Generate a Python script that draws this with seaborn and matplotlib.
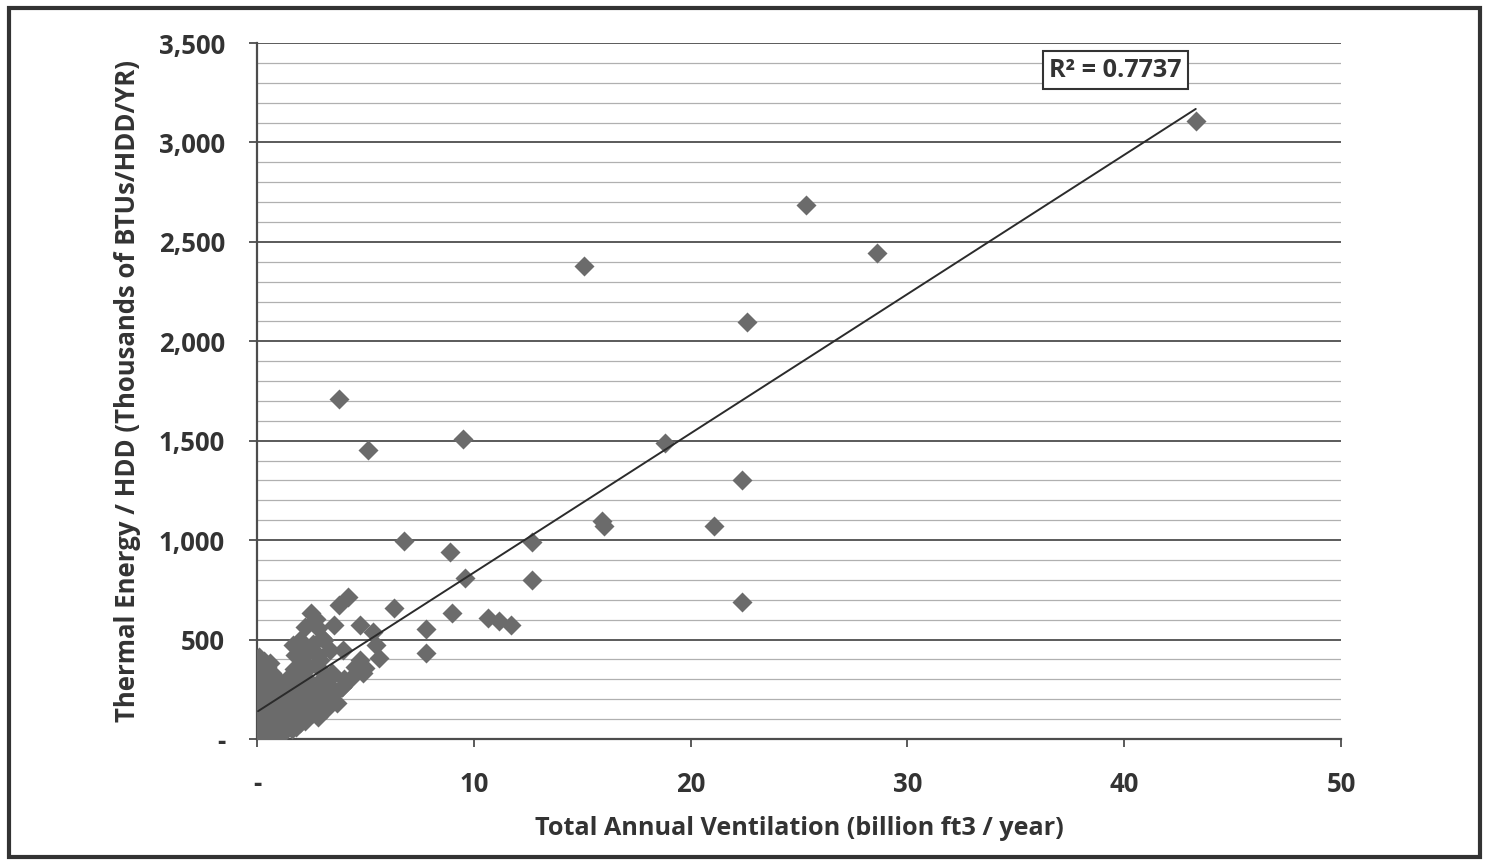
import numpy as np
import pandas as pd
import matplotlib
matplotlib.use("Agg")
import matplotlib.pyplot as plt
import seaborn as sns

# ventilation (billion ft3/yr) vs thermal energy per HDD (thousands BTU/HDD/yr)
# values
outlier_x = [43.3, 25.3, 28.6, 15.1, 22.6, 3.8, 5.1, 9.5, 18.8, 22.35,
             15.9, 16.0, 21.1, 22.35, 6.8, 8.9, 9.6, 12.7, 12.7, 6.3,
             7.8, 7.8, 9.0, 10.65, 11.15, 11.7]
outlier_y = [3109, 2686, 2445, 2379, 2098, 1710, 1454, 1509, 1489, 1303,
             1097, 1071, 1071, 689, 996, 941, 810, 991, 800, 659,
             553, 433, 634, 609, 594, 573]

mid_x = [4.2, 3.8, 2.7, 3.55, 4.75, 5.35, 3.95, 5.5, 5.65, 4.75,
         4.5, 5.0, 3.9, 3.45, 4.9, 4.3, 2.2, 2.5, 2.8, 3.1,
         3.35, 2.9, 2.45, 1.65, 2.0]
mid_y = [714, 674, 604, 573, 573, 538, 448, 473, 407, 397,
         362, 357, 262, 332, 330, 300, 563, 634, 558, 498,
         448, 397, 448, 473, 498]

cluster_x = [0.05, 0.1, 0.15, 0.1, 0.2, 0.15, 0.25, 0.2, 0.3, 0.1,
             0.35, 0.4, 0.3, 0.45, 0.5, 0.6, 0.55, 0.7, 0.65, 0.8,
             0.9, 1.0, 0.85, 1.2, 1.3, 0.05, 1.2, 1.4, 1.5, 1.7,
             1.8, 2.0, 2.1, 2.3, 2.4, 2.6, 2.8, 3.0, 2.5, 2.2,
             1.9, 1.6, 1.3, 1.7, 2.1, 2.7, 3.0, 3.3, 3.6, 3.9,
             3.2, 2.8, 2.35, 3.5, 3.0, 2.7, 1.0, 0.4, 0.6, 1.1,
             1.5, 0.3, 0.75, 1.9, 2.4, 3.4, 4.0, 0.2, 0.5, 1.4,
             2.9, 3.7, 0.1, 0.9, 1.75,
             0.2, 0.4, 0.7, 0.9, 1.1, 1.3, 1.6, 1.9, 2.2, 2.6,
             0.5, 0.8, 1.2, 1.5, 0.3, 1.0, 0.6, 1.8, 2.4, 3.1,
             0.15, 0.45, 0.25, 1.1, 1.4,
             1.6, 2.0, 1.8, 2.2, 2.7, 3.2, 0.7, 1.0]
cluster_y = [20, 60, 110, 160, 210, 260, 300, 350, 390, 410,
             240, 180, 130, 80, 40, 120, 280, 330, 200, 250,
             160, 90, 50, 30, 60, 5, 250, 300, 200, 350,
             260, 400, 310, 450, 360, 480, 420, 510, 280, 220,
             170, 140, 110, 80, 120, 170, 220, 270, 230, 260,
             150, 110, 111, 320, 300, 250, 200, 330, 380, 150,
             250, 70, 140, 320, 190, 200, 300, 290, 230, 180,
             350, 180, 360, 300, 420,
             40, 15, 60, 100, 70, 130, 100, 130, 160, 130,
             150, 190, 190, 160, 90, 40, 100, 210, 240, 180,
             330, 360, 190, 280, 230,
             50, 80, 60, 90, 140, 200, 10, 15]

vent = outlier_x + mid_x + cluster_x
energy = outlier_y + mid_y + cluster_y
df = pd.DataFrame({"vent": vent, "energy": energy})

x_ticks = [0, 10, 20, 30, 40, 50]
x_labels = ["-", "10", "20", "30", "40", "50"]
y_ticks = [0, 500, 1000, 1500, 2000, 2500, 3000, 3500]
y_labels = ["-", "500", "1,000", "1,500", "2,000", "2,500", "3,000", "3,500"]
r2_text = "R\u00b2 = 0.7737"

sns.set_theme(style="white")
plt.rcParams["font.family"] = ["Open Sans", "DejaVu Sans"]
plt.rcParams["font.weight"] = "bold"

fig = plt.figure(figsize=(14.89, 8.63), dpi=100)
ax = fig.add_axes([257 / 1489, 1 - 739 / 863, (1341 - 257) / 1489, (739 - 43) / 863])

# light minor grid every 100, darker major grid every 500
for v in range(100, 3600, 100):
    if v % 500:
        ax.axhline(v, color="#b0b0b0", lw=0.9, zorder=0)
for v in y_ticks[1:]:
    ax.axhline(v, color="#4d4d4d", lw=1.3, zorder=0)

sns.scatterplot(data=df, x="vent", y="energy", marker="D", s=104,
                color="#6b6b6b", linewidth=0, ax=ax, zorder=3)
sns.regplot(data=df, x="vent", y="energy", scatter=False, ci=None,
            line_kws={"color": "#2b2b2b", "lw": 1.4, "zorder": 4}, ax=ax)

ax.set_xlim(0, 50)
ax.set_ylim(0, 3500)
ax.set_xticks(x_ticks)
ax.set_xticklabels(x_labels)
ax.set_yticks(y_ticks)
ax.set_yticklabels(y_labels)
ax.tick_params(axis="both", direction="out", length=6, width=1.3,
               color="#4d4d4d", labelsize=18.5, labelcolor="#333333", pad=17)
ax.tick_params(axis="x", bottom=True)
ax.tick_params(axis="y", left=True)

for side in ["top", "right"]:
    ax.spines[side].set_visible(False)
for side in ["left", "bottom"]:
    ax.spines[side].set_color("#4d4d4d")
    ax.spines[side].set_linewidth(1.6)

ax.set_xlabel("Total Annual Ventilation (billion ft3 / year)", fontsize=18.2,
              fontweight="bold", color="#333333", labelpad=13)
ax.set_ylabel("Thermal Energy / HDD (Thousands of BTUs/HDD/YR)", fontsize=18.5,
              fontweight="bold", color="#333333", labelpad=13)

ax.text(39.6, 3363, r2_text, ha="center", va="center", fontsize=18.2,
        fontweight="bold", color="#333333", zorder=5,
        bbox=dict(boxstyle="square,pad=0.25", fc="white", ec="#333333", lw=1.5))

# outer frame around the whole picture
frame = plt.Rectangle((9 / 1489, 6 / 863), 1471 / 1489, 849 / 863,
                      transform=fig.transFigure, fill=False, ec="#333333", lw=3)
fig.add_artist(frame)

fig.savefig("out.png", dpi=100)
